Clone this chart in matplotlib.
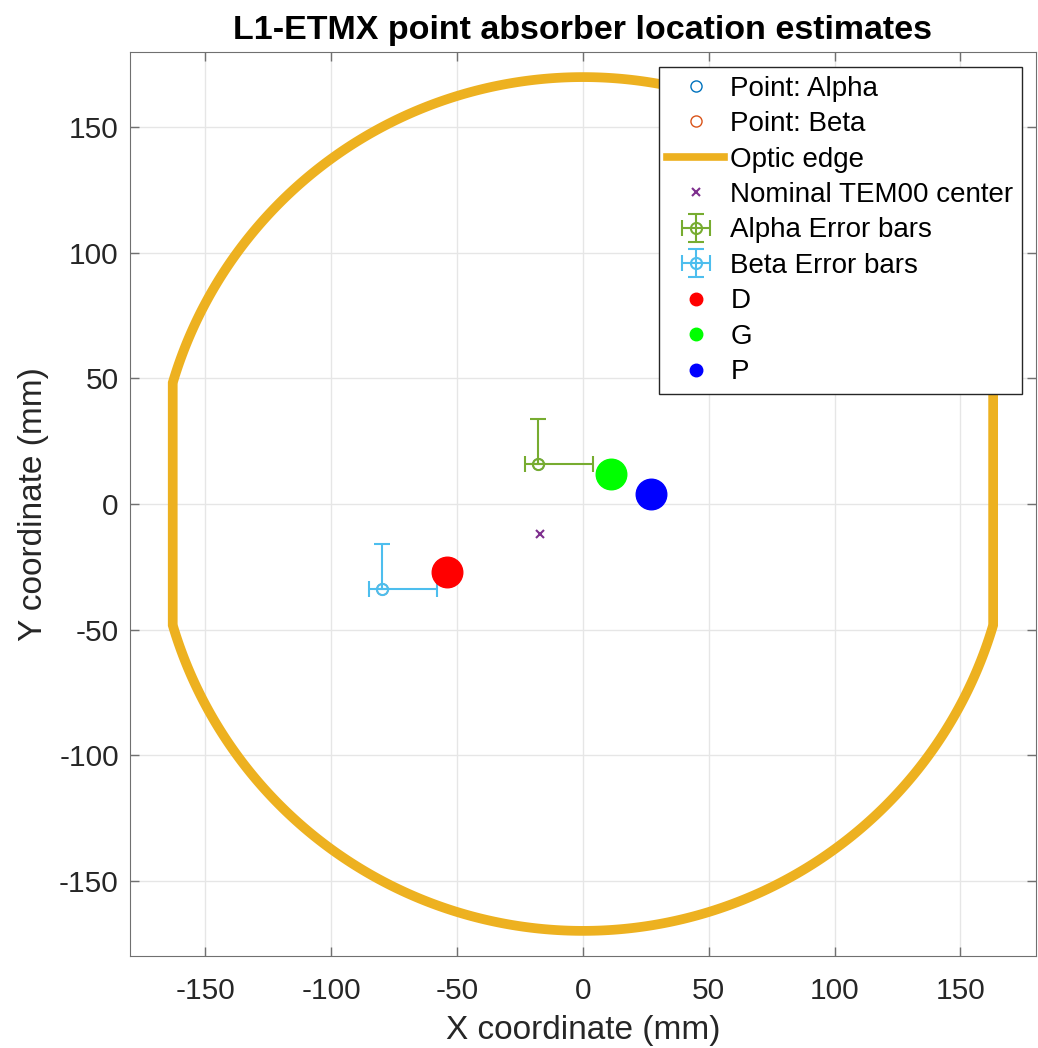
import numpy as np
import matplotlib.pyplot as plt
from matplotlib.patches import Polygon
from matplotlib.lines import Line2D

# optic geometry (mm)
optic_radius = 170.0
flat_x = 163.0

# point absorber estimates (mm)
alpha_xy = [-18, 16]
beta_xy = [-80, -34]
alpha_xerr = [[5], [22]]
alpha_yerr = [[0], [18]]
beta_xerr = [[5], [22]]
beta_yerr = [[0], [18]]
tem00_xy = [-17, -12]

dot_names = ['D', 'G', 'P']
dot_x = [-54, 11, 27]
dot_y = [-27, 12, 4]
dot_colors = ['#FF0000', '#00FF00', '#0000FF']

plt.rcParams['font.family'] = 'Liberation Sans'
plt.rcParams['axes.unicode_minus'] = False

fig = plt.figure(figsize=(10.38, 10.48), dpi=100)
ax = fig.add_axes([0.1252, 0.0878, 0.8728, 0.8626])

# outline of the optic: circle clipped by two flats, drawn as a closed outline
th = np.linspace(0, 2 * np.pi, 721)[:-1]
ex = np.clip(optic_radius * np.sin(th), -flat_x, flat_x)
ey = optic_radius * np.cos(th)
edge = Polygon(np.column_stack([ex, ey]), closed=True, fill=False, edgecolor='#EDB120',
               lw=7, zorder=1)
ax.add_patch(edge)

handles = []
handles += ax.plot(alpha_xy[0], alpha_xy[1], 'o', mfc='none', color='#0072BD', ms=8, label='Point: Alpha')
handles += ax.plot(beta_xy[0], beta_xy[1], 'o', mfc='none', color='#D95319', ms=8, label='Point: Beta')
handles.append(Line2D([], [], color='#EDB120', lw=5.5, label='Optic edge'))
handles += ax.plot(tem00_xy[0], tem00_xy[1], 'x', color='#7E2F8E', ms=6, mew=1.5, label='Nominal TEM00 center')
handles.append(ax.errorbar(alpha_xy[0], alpha_xy[1], xerr=alpha_xerr, yerr=alpha_yerr, fmt='o', mfc='none',
                           color='#77AC30', ms=8, capsize=6, elinewidth=1.5, mew=1.5, label='Alpha Error bars'))
handles.append(ax.errorbar(beta_xy[0], beta_xy[1], xerr=beta_xerr, yerr=beta_yerr, fmt='o', mfc='none',
                           color='#4DBEEE', ms=8, capsize=6, elinewidth=1.5, mew=1.5, label='Beta Error bars'))
for name, x, y, c in zip(dot_names, dot_x, dot_y, dot_colors):
    handles += ax.plot(x, y, 'o', color=c, ms=22, label=name)

ax.set_xlim(-180, 180)
ax.set_ylim(-180, 180)
ax.set_xticks(np.arange(-150, 151, 50))
ax.set_yticks(np.arange(-150, 151, 50))
ax.grid(True, color='#E6E6E6', lw=1)
ax.set_axisbelow(True)
ax.tick_params(direction='in', labelsize=21.5, top=True, right=True, length=6.5, width=1,
               color='#707070', labelcolor='#262626')
ax.tick_params(axis='x', pad=15)
ax.tick_params(axis='y', pad=8)
for s in ax.spines.values():
    s.set_color('#707070')
ax.set_xlabel('X coordinate (mm)', fontsize=24, color='#262626', labelpad=7)
ax.set_ylabel('Y coordinate (mm)', fontsize=24, color='#262626', labelpad=7)
ax.set_title('L1-ETMX point absorber location estimates', fontsize=24.5, fontweight='bold', pad=9)

leg = ax.legend(handles=handles, loc='upper right', bbox_to_anchor=(0.9845, 0.983), fontsize=20,
                fancybox=False, framealpha=1, edgecolor='#262626', borderpad=0.3, labelspacing=0.34,
                handlelength=2.05, handletextpad=0.22, borderaxespad=0)
leg.get_frame().set_linewidth(1)
for h in leg.legend_handles[-3:]:
    h.set_markersize(9)

fig.savefig('out.png', dpi=100)
